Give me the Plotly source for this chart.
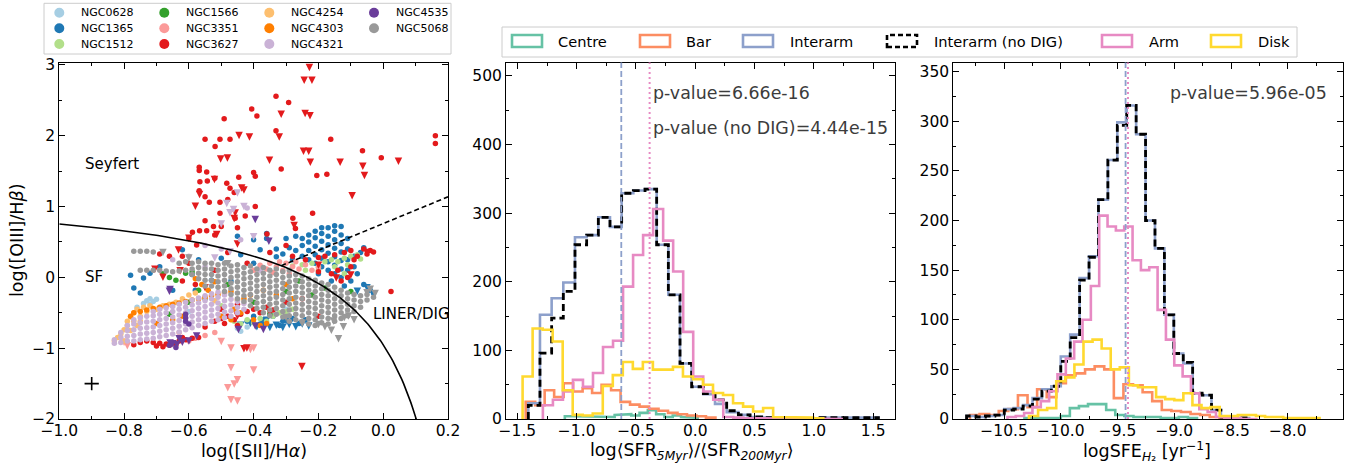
import numpy as np
import plotly.graph_objects as go

W, H = 1355, 466

# ---------------- BPT panel data ----------------
GALAXIES = ["NGC0628", "NGC1365", "NGC1512", "NGC1566", "NGC3351", "NGC3627",
            "NGC4254", "NGC4303", "NGC4321", "NGC4535", "NGC5068"]
GAL_COLORS = ["#a6cee3", "#1f78b4", "#b2df8a", "#33a02c", "#fb9a99", "#e31a1c",
              "#fdbf6f", "#ff7f00", "#cab2d6", "#6a3d9a", "#999999"]

N0628_DET = [(-0.74, -0.37), (-0.73, -0.33), (-0.72, -0.30), (-0.71, -0.34), (-0.70, -0.31),
             (-0.72, -0.38), (-0.76, -0.42), (-0.45, -0.72), (-0.44, -0.76), (-0.42, -0.70),
             (-0.50, -0.55), (-0.35, -0.50), (-0.30, -0.45), (-0.60, -0.48)]
N0628_LIM = []

N1365_DET = [(-0.25, 0.30), (-0.25, 0.45), (-0.25, 0.55), (-0.23, 0.25), (-0.23, 0.38), (-0.23, 0.50),
             (-0.23, 0.60), (-0.21, 0.20), (-0.21, 0.32), (-0.21, 0.44), (-0.21, 0.56), (-0.21, 0.65),
             (-0.19, 0.15), (-0.19, 0.27), (-0.19, 0.39), (-0.19, 0.51), (-0.19, 0.62), (-0.19, 0.70),
             (-0.17, 0.10), (-0.17, 0.22), (-0.17, 0.34), (-0.17, 0.46), (-0.17, 0.58), (-0.17, 0.70),
             (-0.15, 0.05), (-0.15, 0.17), (-0.15, 0.29), (-0.15, 0.41), (-0.15, 0.53), (-0.15, 0.65),
             (-0.15, 0.73), (-0.13, 0.00), (-0.13, 0.12), (-0.13, 0.24), (-0.13, 0.36), (-0.13, 0.48),
             (-0.13, 0.60), (-0.13, 0.72), (-0.11, 0.10), (-0.11, 0.25), (-0.11, 0.40), (-0.11, 0.55),
             (-0.09, 0.15), (-0.09, 0.30), (-0.07, 0.35), (-0.06, 0.42), (-0.27, 0.38), (-0.29, 0.42),
             (-0.31, 0.33), (-0.28, 0.25), (-0.33, 0.40), (-0.36, 0.55), (-0.30, 0.55), (-0.27, 0.58),
             (-0.78, 0.03), (-0.77, -0.15), (-0.74, -0.01), (-0.72, 0.06), (-0.69, 0.15), (-0.75, -0.22),
             (-0.65, -0.18), (-0.58, -0.18), (-0.57, 0.25), (-0.50, 0.27), (-0.44, 0.32), (-0.40, 0.53),
             (-0.36, 0.62), (-0.33, 0.29), (-0.53, -0.04), (-0.59, 0.04), (-0.62, 0.39), (-0.38, 0.39),
             (-0.45, 0.58), (-0.40, 0.20), (-0.47, -0.05), (-0.40, -0.55), (-0.37, -0.60), (-0.34, -0.55),
             (-0.31, -0.62), (-0.28, -0.58), (-0.26, -0.65), (-0.38, -0.66), (-0.32, -0.68), (-0.24, -0.60),
             (-0.42, -0.62), (-0.10, -0.05), (-0.08, 0.05), (-0.12, -0.12), (-0.06, -0.10), (-0.04, -0.18),
             (-0.20, 0.05), (-0.16, -0.05), (-0.03, -0.22)]
N1365_LIM = [(-0.44, -0.73), (-0.41, -0.70), (-0.39, -0.75), (-0.37, -0.72), (-0.35, -0.76),
             (-0.33, -0.73), (-0.31, -0.76), (-0.29, -0.72), (-0.27, -0.75), (-0.25, -0.71),
             (-0.23, -0.74), (-0.36, -0.66), (-0.30, -0.67), (-0.05, -0.20), (-0.08, -0.25)]

N1512_DET = [(-0.28, 0.16), (-0.25, 0.18), (-0.22, 0.20), (-0.20, 0.15), (-0.18, 0.22), (-0.16, 0.25),
             (-0.14, 0.22), (-0.12, 0.27), (-0.10, 0.30), (-0.08, 0.32), (-0.07, 0.26), (-0.11, 0.18),
             (-0.15, 0.15), (-0.24, 0.10), (-0.20, 0.10), (-0.46, -0.62), (-0.44, -0.66), (-0.42, -0.60),
             (-0.40, -0.64), (-0.38, -0.58), (-0.36, -0.62), (-0.34, -0.55), (-0.32, -0.50), (-0.30, -0.48),
             (-0.28, -0.45), (-0.35, -0.47), (-0.50, -0.40), (-0.12, 0.05)]
N1512_LIM = []

N1566_DET = [(-0.68, 0.05), (-0.66, 0.00), (-0.64, -0.04), (-0.61, 0.06), (-0.59, 0.08), (-0.57, -0.18),
             (-0.66, -0.52), (-0.55, -0.30), (-0.40, -0.35), (-0.30, -0.20), (-0.22, -0.25), (-0.18, -0.15),
             (-0.10, -0.20), (-0.35, -0.52), (-0.48, -0.10), (-0.26, -0.05), (-0.60, -0.35)]
N1566_LIM = []

N3351_DET = [(-0.38, 0.17), (-0.36, 0.12), (-0.35, 0.20), (-0.33, 0.15), (-0.31, 0.10), (-0.30, 0.20),
             (-0.28, 0.15), (-0.26, 0.12), (-0.24, 0.18), (-0.22, 0.10), (-0.32, 0.22), (-0.27, 0.22),
             (-0.34, 0.07), (-0.29, 0.05), (-0.40, 0.10), (-0.20, 0.14), (-0.58, -0.86), (-0.55, -0.82),
             (-0.63, -0.78), (-0.52, -0.78), (-0.60, -0.90)]
N3351_LIM = [(-0.79, -1.02), (-0.80, -0.97), (-0.50, -0.96), (-0.47, -1.05), (-0.47, -1.33),
             (-0.40, -1.36), (-0.48, -1.61), (-0.46, -1.56), (-0.45, -1.50), (-0.47, -1.78),
             (-0.45, -1.80), (-0.41, -1.07), (-0.40, -1.05)]

N3627_DET = [(-0.491, 2.24), (-0.406, 2.38), (-0.390, 2.28), (-0.331, 2.56), (-0.292, 2.47), (-0.550, 1.95),
             (-0.504, 1.95), (-0.473, 1.95), (-0.519, 1.85), (-0.331, 2.07), (-0.162, 1.95), (-0.064, 1.79),
             (-0.006, 1.69), (0.161, 2.00), (0.161, 1.89), (-0.315, 1.53), (-0.205, 1.44), (-0.174, 1.455),
             (-0.400, 1.48), (-0.395, 1.43), (-0.568, 1.555), (-0.568, 1.51), (-0.545, 1.49), (-0.566, 1.35),
             (-0.543, 1.36), (-0.568, 1.225), (-0.550, 1.14), (-0.537, 1.06), (-0.504, 1.06), (-0.504, 0.905),
             (-0.483, 1.33), (-0.473, 1.26), (-0.446, 1.414), (-0.339, 1.253), (-0.589, 0.637), (-0.567, 0.66),
             (-0.545, 0.66), (-0.524, 0.717), (-0.576, 0.458), (-0.457, 0.834), (-0.426, 0.867), (-0.395, 1.00),
             (-0.359, 0.613), (-0.279, 0.834), (-0.218, 0.905), (-0.271, 0.69), (0.024, -0.20), (-0.60, 0.55),
             (-0.52, 0.60), (-0.55, 0.80), (-0.50, 0.72), (-0.45, 0.70), (-0.48, 1.10), (-0.46, 1.20),
             (-0.52, 1.40), (-0.30, 0.45), (-0.35, 0.35), (-0.62, 0.30),
             (-0.15, 0.32), (-0.12, 0.35), (-0.10, 0.38), (-0.08, 0.30), (-0.06, 0.40), (-0.04, 0.38),
             (-0.03, 0.36), (-0.05, 0.33), (-0.09, 0.25), (-0.18, 0.30), (-0.20, 0.28), (-0.14, 0.10),
             (-0.16, 0.05), (-0.11, 0.00), (-0.13, -0.05), (-0.20, 0.08), (-0.24, 0.25), (-0.28, 0.30),
             (-0.10, 0.15),
             (-0.73, -0.90), (-0.71, -0.92), (-0.69, -0.93), (-0.67, -0.94), (-0.65, -0.92), (-0.63, -0.90),
             (-0.61, -0.88), (-0.59, -0.86), (-0.57, -0.85), (-0.70, -0.97), (-0.68, -0.98), (-0.66, -0.96),
             (-0.64, -0.95), (-0.75, -0.92), (-0.77, -0.95), (-0.62, -0.85),
             (-0.52, -0.62), (-0.50, -0.58), (-0.48, -0.55), (-0.46, -0.60), (-0.44, -0.52), (-0.42, -0.48),
             (-0.40, -0.45), (-0.38, -0.50), (-0.36, -0.42), (-0.34, -0.46), (-0.49, -0.65), (-0.45, -0.68),
             (-0.55, -0.70), (-0.30, -0.35), (-0.25, -0.30), (-0.20, -0.55), (-0.45, -0.38), (-0.50, -0.45),
             (-0.69, 0.33), (-0.66, 0.30), (-0.58, -0.10), (-0.62, -0.05), (-0.52, 0.10), (-0.48, 0.35),
             (-0.42, 0.20), (-0.60, 0.20)]
N3627_LIM = [(-0.228, 2.91), (-0.244, 2.73), (-0.220, 2.73), (-0.241, 2.26), (-0.226, 2.23), (-0.315, 2.25),
             (-0.445, 1.95), (-0.413, 1.93), (-0.321, 1.93), (-0.502, 1.62), (-0.481, 1.635), (-0.351, 1.60),
             (-0.246, 1.73), (-0.230, 1.73), (-0.225, 1.573), (-0.133, 1.573), (-0.063, 1.517), (-0.058, 1.385),
             (0.047, 1.588), (-0.096, 1.10), (-0.521, 1.33), (-0.437, 1.21), (-0.430, 1.18), (-0.580, 0.952),
             (-0.567, 1.117), (-0.457, 0.858), (-0.460, 0.78), (-0.514, 0.552), (-0.275, 0.68), (-0.632, 0.335),
             (-0.705, 0.063), (-0.627, 0.04), (-0.251, -1.31), (-0.421, -1.05), (-0.430, -1.06), (-0.145, -0.06),
             (-0.60, 0.50), (-0.45, 0.42), (-0.68, -0.05), (-0.55, -0.20), (-0.20, 0.12), (-0.10, -0.02),
             (-0.05, 0.30), (-0.35, -0.55), (-0.45, -0.60)]

N4254_DET = [(-0.82, -0.85), (-0.81, -0.80), (-0.80, -0.74), (-0.79, -0.68), (-0.79, -0.62), (-0.78, -0.56),
             (-0.77, -0.50), (-0.76, -0.45), (-0.75, -0.55), (-0.74, -0.42), (-0.73, -0.48), (-0.72, -0.40),
             (-0.70, -0.45), (-0.68, -0.40), (-0.78, -0.75), (-0.76, -0.68), (-0.77, -0.62), (-0.75, -0.62),
             (-0.60, -0.25), (-0.58, -0.22), (-0.55, -0.28), (-0.52, -0.33), (-0.66, -0.38), (-0.64, -0.35),
             (-0.62, -0.30), (-0.80, -0.90), (-0.83, -0.90)]
N4254_LIM = []

N4303_DET = [(-0.78, -0.55), (-0.77, -0.50), (-0.75, -0.48), (-0.73, -0.46), (-0.71, -0.44), (-0.69, -0.42),
             (-0.67, -0.40), (-0.65, -0.38), (-0.63, -0.36), (-0.61, -0.34), (-0.59, -0.32), (-0.57, -0.30),
             (-0.55, -0.28), (-0.53, -0.26), (-0.51, -0.24), (-0.49, -0.22), (-0.47, -0.20), (-0.45, -0.32),
             (-0.43, -0.30), (-0.41, -0.25), (-0.58, -0.02), (-0.56, -0.10), (-0.54, -0.18), (-0.52, -0.06),
             (-0.46, -0.45), (-0.44, -0.50), (-0.40, -0.60), (-0.38, -0.68), (-0.36, -0.65), (-0.47, -0.60),
             (-0.50, -0.55), (-0.62, -0.55), (-0.65, -0.60), (-0.70, -0.65), (-0.37, -0.18), (-0.33, -0.25),
             (-0.30, -0.10), (-0.28, -0.30)]
N4303_LIM = []

N4321_DET = [(-0.83, -0.93), (-0.83, -0.88), (-0.81, -0.92), (-0.81, -0.85), (-0.81, -0.78),
             (-0.79, -0.90), (-0.79, -0.83), (-0.79, -0.75), (-0.79, -0.68),
             (-0.77, -0.90), (-0.77, -0.82), (-0.77, -0.74), (-0.77, -0.66), (-0.77, -0.60),
             (-0.75, -0.88), (-0.75, -0.80), (-0.75, -0.72), (-0.75, -0.64), (-0.75, -0.57),
             (-0.73, -0.87), (-0.73, -0.79), (-0.73, -0.71), (-0.73, -0.63), (-0.73, -0.55),
             (-0.71, -0.86), (-0.71, -0.78), (-0.71, -0.70), (-0.71, -0.62), (-0.71, -0.54), (-0.71, -0.48),
             (-0.69, -0.84), (-0.69, -0.76), (-0.69, -0.68), (-0.69, -0.60), (-0.69, -0.52), (-0.69, -0.45),
             (-0.67, -0.82), (-0.67, -0.74), (-0.67, -0.66), (-0.67, -0.58), (-0.67, -0.50), (-0.67, -0.43),
             (-0.65, -0.80), (-0.65, -0.72), (-0.65, -0.64), (-0.65, -0.56), (-0.65, -0.48), (-0.65, -0.41),
             (-0.63, -0.77), (-0.63, -0.69), (-0.63, -0.61), (-0.63, -0.53), (-0.63, -0.45), (-0.63, -0.38),
             (-0.61, -0.74), (-0.61, -0.66), (-0.61, -0.58), (-0.61, -0.50), (-0.61, -0.42), (-0.61, -0.35),
             (-0.59, -0.71), (-0.59, -0.63), (-0.59, -0.55), (-0.59, -0.47), (-0.59, -0.39), (-0.59, -0.32),
             (-0.57, -0.68), (-0.57, -0.60), (-0.57, -0.52), (-0.57, -0.44), (-0.57, -0.36), (-0.57, -0.29),
             (-0.55, -0.65), (-0.55, -0.57), (-0.55, -0.49), (-0.55, -0.41), (-0.55, -0.33), (-0.55, -0.26),
             (-0.53, -0.62), (-0.53, -0.54), (-0.53, -0.46), (-0.53, -0.38), (-0.53, -0.30), (-0.53, -0.23),
             (-0.51, -0.60), (-0.51, -0.52), (-0.51, -0.44), (-0.51, -0.36), (-0.51, -0.28), (-0.51, -0.21),
             (-0.49, -0.57), (-0.49, -0.49), (-0.49, -0.41), (-0.49, -0.33), (-0.49, -0.25),
             (-0.47, -0.55), (-0.47, -0.47), (-0.47, -0.39), (-0.47, -0.31),
             (-0.45, -0.50), (-0.45, -0.42), (-0.45, -0.34), (-0.43, -0.45), (-0.43, -0.37),
             (-0.42, 0.98), (-0.44, 0.53), (-0.50, 0.40), (-0.55, 0.45), (-0.60, 0.30), (-0.65, 0.25),
             (-0.38, 0.10), (-0.55, 0.15)]
N4321_LIM = [(-0.462, 0.905), (-0.483, 0.99), (-0.473, 0.86), (-0.450, 1.14), (-0.473, 0.31),
             (-0.500, 0.70), (-0.430, 0.95), (-0.400, 0.52), (-0.520, 0.22)]

N4535_DET = [(-0.61, -0.52), (-0.61, -0.57), (-0.61, -0.62), (-0.60, -0.66), (-0.66, -0.96), (-0.64, -0.99)]
N4535_LIM = [(-0.658, -0.225), (-0.660, -0.25), (-0.395, 0.764), (-0.353, 0.458), (-0.447, -0.79),
             (-0.395, -0.74), (-0.370, -0.79), (-0.658, -0.98), (-0.650, -0.99), (-0.637, -1.00),
             (-0.620, -0.97), (-0.576, -0.88), (-0.600, -0.95), (-0.630, -0.92)]

N5068_DET = [(-0.77, 0.37), (-0.75, 0.37), (-0.73, 0.37), (-0.71, 0.36),
             (-0.75, 0.10), (-0.73, 0.10), (-0.71, 0.10), (-0.69, 0.10), (-0.67, 0.09), (-0.65, 0.08),
             (-0.63, 0.09), (-0.61, 0.10), (-0.63, 0.20), (-0.61, 0.22),
             (-0.59, 0.20), (-0.59, 0.12), (-0.59, 0.04),
             (-0.57, 0.22), (-0.57, 0.14), (-0.57, 0.06), (-0.57, -0.02),
             (-0.55, 0.20), (-0.55, 0.12), (-0.55, 0.04), (-0.55, -0.04), (-0.55, -0.12),
             (-0.53, 0.20), (-0.53, 0.12), (-0.53, 0.04), (-0.53, -0.04), (-0.53, -0.12),
             (-0.51, 0.18), (-0.51, 0.10), (-0.51, 0.02), (-0.51, -0.06), (-0.51, -0.14),
             (-0.49, 0.20), (-0.49, 0.12), (-0.49, 0.04), (-0.49, -0.04), (-0.49, -0.12), (-0.49, -0.20),
             (-0.47, 0.16), (-0.47, 0.08), (-0.47, 0.00), (-0.47, -0.08), (-0.47, -0.16), (-0.47, -0.24),
             (-0.45, 0.18), (-0.45, 0.10), (-0.45, 0.02), (-0.45, -0.06), (-0.45, -0.14), (-0.45, -0.22),
             (-0.45, -0.30),
             (-0.43, 0.14), (-0.43, 0.06), (-0.43, -0.02), (-0.43, -0.10), (-0.43, -0.18), (-0.43, -0.26),
             (-0.43, -0.34),
             (-0.41, 0.16), (-0.41, 0.08), (-0.41, 0.00), (-0.41, -0.08), (-0.41, -0.16), (-0.41, -0.24),
             (-0.41, -0.32), (-0.41, -0.40),
             (-0.39, 0.12), (-0.39, 0.04), (-0.39, -0.04), (-0.39, -0.12), (-0.39, -0.20), (-0.39, -0.28),
             (-0.39, -0.36), (-0.39, -0.44),
             (-0.37, 0.14), (-0.37, 0.06), (-0.37, -0.02), (-0.37, -0.10), (-0.37, -0.18), (-0.37, -0.26),
             (-0.37, -0.34), (-0.37, -0.42), (-0.37, -0.50),
             (-0.35, 0.10), (-0.35, 0.02), (-0.35, -0.06), (-0.35, -0.14), (-0.35, -0.22), (-0.35, -0.30),
             (-0.35, -0.38), (-0.35, -0.46), (-0.35, -0.54),
             (-0.33, 0.12), (-0.33, 0.04), (-0.33, -0.04), (-0.33, -0.12), (-0.33, -0.20), (-0.33, -0.28),
             (-0.33, -0.36), (-0.33, -0.44), (-0.33, -0.52),
             (-0.31, 0.08), (-0.31, 0.00), (-0.31, -0.08), (-0.31, -0.16), (-0.31, -0.24), (-0.31, -0.32),
             (-0.31, -0.40), (-0.31, -0.48), (-0.31, -0.56),
             (-0.29, 0.10), (-0.29, 0.02), (-0.29, -0.06), (-0.29, -0.14), (-0.29, -0.22), (-0.29, -0.30),
             (-0.29, -0.38), (-0.29, -0.46), (-0.29, -0.54), (-0.29, -0.62),
             (-0.27, 0.04), (-0.27, -0.04), (-0.27, -0.12), (-0.27, -0.20), (-0.27, -0.28), (-0.27, -0.36),
             (-0.27, -0.44), (-0.27, -0.52), (-0.27, -0.60),
             (-0.25, 0.02), (-0.25, -0.06), (-0.25, -0.14), (-0.25, -0.22), (-0.25, -0.30), (-0.25, -0.38),
             (-0.25, -0.46), (-0.25, -0.54), (-0.25, -0.62),
             (-0.23, -0.02), (-0.23, -0.10), (-0.23, -0.18), (-0.23, -0.26), (-0.23, -0.34), (-0.23, -0.42),
             (-0.23, -0.50), (-0.23, -0.58), (-0.23, -0.66),
             (-0.21, -0.04), (-0.21, -0.12), (-0.21, -0.20), (-0.21, -0.28), (-0.21, -0.36), (-0.21, -0.44),
             (-0.21, -0.52), (-0.21, -0.60), (-0.21, -0.68),
             (-0.19, -0.08), (-0.19, -0.16), (-0.19, -0.24), (-0.19, -0.32), (-0.19, -0.40), (-0.19, -0.48),
             (-0.19, -0.56), (-0.19, -0.64),
             (-0.17, -0.10), (-0.17, -0.18), (-0.17, -0.26), (-0.17, -0.34), (-0.17, -0.42), (-0.17, -0.50),
             (-0.17, -0.58), (-0.17, -0.66),
             (-0.15, -0.14), (-0.15, -0.22), (-0.15, -0.30), (-0.15, -0.38), (-0.15, -0.46), (-0.15, -0.54),
             (-0.15, -0.62),
             (-0.13, -0.18), (-0.13, -0.26), (-0.13, -0.34), (-0.13, -0.42), (-0.13, -0.50), (-0.13, -0.58),
             (-0.11, -0.22), (-0.11, -0.30), (-0.11, -0.38), (-0.11, -0.46), (-0.11, -0.54),
             (-0.09, -0.24), (-0.09, -0.32), (-0.09, -0.40), (-0.09, -0.48),
             (-0.07, -0.26), (-0.07, -0.34), (-0.07, -0.42), (-0.05, -0.24), (-0.05, -0.32), (-0.03, -0.28)]
N5068_LIM = [(-0.68, 0.30), (-0.60, 0.22), (-0.48, 0.14), (-0.30, -0.62), (-0.25, -0.70), (-0.20, -0.72),
             (-0.153, -0.67), (-0.138, -0.92), (-0.123, -0.75), (-0.107, -0.60), (-0.05, -0.27),
             (-0.025, -0.28), (-0.09, -0.65), (-0.18, -0.75), (-0.04, -0.22), (-0.12, -0.62), (-0.16, -0.80)]

BPT_DET = [N0628_DET, N1365_DET, N1512_DET, N1566_DET, N3351_DET, N3627_DET,
           N4254_DET, N4303_DET, N4321_DET, N4535_DET, N5068_DET]
BPT_LIM = [N0628_LIM, N1365_LIM, N1512_LIM, N1566_LIM, N3351_LIM, N3627_LIM,
           N4254_LIM, N4303_LIM, N4321_LIM, N4535_LIM, N5068_LIM]

# typical error bar
ERR_X, ERR_Y = -0.9, -1.5
ERR_DX, ERR_DY = 0.022, 0.094

# Kewley et al. (2006) demarcations
KEW_A, KEW_B, KEW_C = 0.72, 0.32, 1.30
SEY_M, SEY_C = 1.89, 0.76
KEW_X_END = 0.102
SEY_X_START = -0.315

# ---------------- histogram data ----------------
REGIONS = ["Centre", "Bar", "Interarm", "Interarm (no DIG)", "Arm", "Disk"]
REG_COLORS = ["#66c2a5", "#fc8d62", "#8da0cb", "#000000", "#e78ac3", "#ffd92f"]

# panel 2: log<SFR5Myr>/<SFR200Myr>  (bin start, bin width, counts)
P2_CENTRE = (-1.10, 0.07, [4, 4, 4, 4, 3, 3, 6, 7, 5, 9, 13, 7, 3, 5, 3, 2])
P2_BAR = (-1.43, 0.08, [25, 20, 42, 32, 52, 40, 45, 38, 50, 42, 25, 21, 18, 15, 12, 9, 7, 5, 4, 2])
P2_INTERARM = (-1.408, 0.0984, [23, 152, 176, 199, 265, 268, 294, 280, 329, 333, 335, 254, 181, 81, 47,
                                36, 22, 10, 6, 3, 2, 1, 1, 0, 1, 2, 3, 3, 2, 2])
P2_NODIG = (-1.408, 0.0984, [20, 96, 147, 186, 254, 268, 294, 280, 329, 333, 335, 254, 181, 81, 47,
                             37, 28, 12, 6, 3, 2, 1, 1, 0, 1, 2, 3, 3, 2, 2])
P2_ARM = (-1.285, 0.0845, [20, 28, 40, 57, 47, 67, 105, 114, 193, 239, 268, 306, 260, 215, 127,
                           62, 40, 28, 3, 2, 1, 1, 0, 0, 0, 0, 1, 1, 1, 0])
P2_DISK = (-1.456, 0.0845, [62, 132, 130, 113, 42, 6, 5, 8, 48, 64, 83, 73, 83, 72, 72,
                            76, 62, 58, 50, 38, 35, 23, 18, 11, 16, 3, 3, 3, 2, 1])
P2_MED_INTERARM = -0.624
P2_MED_ARM = -0.385

# panel 3: log SFE_H2
P3_CENTRE = (-10.32, 0.08, [1, 1, 1, 1, 3, 11, 13, 15, 15, 9, 4, 3, 2, 2, 2, 1, 1, 2, 1])
P3_BAR = (-10.80, 0.0845, [4, 5, 4, 8, 10, 24, 12, 30, 22, 36, 44, 46, 50, 53, 50, 21, 35, 34, 27, 18,
                           9, 8, 7, 5, 4, 2, 1, 1])
P3_INTERARM = (-10.83, 0.083, [3, 2, 3, 4, 10, 11, 14, 21, 30, 33, 63, 85, 142, 164, 221, 261, 299, 316,
                               287, 200, 172, 105, 66, 56, 26, 24, 9, 2, 1, 1])
P3_NODIG = (-10.83, 0.083, [3, 2, 3, 4, 9, 10, 13, 20, 28, 33, 58, 82, 140, 163, 221, 261, 296, 316,
                            287, 200, 172, 105, 66, 57, 26, 24, 9, 2, 1, 1])
P3_ARM = (-10.47, 0.0735, [2, 3, 6, 12, 18, 28, 45, 61, 78, 100, 134, 205, 194, 190, 194, 160, 150, 153,
                           110, 80, 54, 43, 26, 10, 7, 2, 1, 1, 0, 0])
P3_DISK = (-10.28, 0.08, [3, 9, 11, 38, 42, 55, 78, 80, 71, 50, 52, 34, 32, 32, 22, 20, 19, 26, 14, 11,
                          12, 3, 3, 4, 4, 3, 2, 2, 1, 1, 1, 1])
P3_MED_INTERARM = -9.429
P3_MED_ARM = -9.408

P2_SERIES = [P2_CENTRE, P2_BAR, P2_INTERARM, P2_NODIG, P2_ARM, P2_DISK]
P3_SERIES = [P3_CENTRE, P3_BAR, P3_INTERARM, P3_NODIG, P3_ARM, P3_DISK]

P2_PVAL = "p-value=6.66e-16"
P2_PVAL_NODIG = "p-value (no DIG)=4.44e-15"
P3_PVAL = "p-value=5.96e-05"

# ---------------- helpers ----------------
FONT = "DejaVu Sans"


def pxx(x):
    return x / W


def pxy(y):
    return 1 - y / H


def step_xy(spec):
    start, width, counts = spec
    xs, ys = [start], [0]
    for k, c in enumerate(counts):
        x0 = start + k * width
        xs += [x0, x0 + width]
        ys += [c, c]
    xs.append(start + len(counts) * width)
    ys.append(0)
    return xs, ys


def minus(v, fmt):
    s = fmt.format(v)
    return s.replace("-", "\u2212")


fig = go.Figure()

# ---- BPT scatter ----
for det, lim, col in zip(BPT_DET, BPT_LIM, GAL_COLORS):
    if det:
        fig.add_trace(go.Scatter(x=[p[0] for p in det], y=[p[1] for p in det], mode="markers",
                                 marker=dict(size=5.5, color=col, line=dict(width=0)),
                                 xaxis="x", yaxis="y", showlegend=False, hoverinfo="skip"))
    if lim:
        fig.add_trace(go.Scatter(x=[p[0] for p in lim], y=[p[1] for p in lim], mode="markers",
                                 marker=dict(size=7.5, color=col, symbol="arrow-down", line=dict(width=0)),
                                 xaxis="x", yaxis="y", showlegend=False, hoverinfo="skip"))

# Kewley curves
kx = np.linspace(-1.0, KEW_X_END, 200)
ky = KEW_A / (kx - KEW_B) + KEW_C
fig.add_trace(go.Scatter(x=kx, y=ky, mode="lines", line=dict(color="black", width=1.6),
                         xaxis="x", yaxis="y", showlegend=False, hoverinfo="skip"))
sx = np.array([SEY_X_START, 0.2])
fig.add_trace(go.Scatter(x=sx, y=SEY_M * sx + SEY_C, mode="lines",
                         line=dict(color="black", width=1.6, dash="5px,3px"),
                         xaxis="x", yaxis="y", showlegend=False, hoverinfo="skip"))
# error cross
fig.add_trace(go.Scatter(x=[ERR_X], y=[ERR_Y], mode="markers", marker=dict(size=1, color="black"),
                         error_x=dict(type="constant", value=ERR_DX, color="black", thickness=1.6, width=0),
                         error_y=dict(type="constant", value=ERR_DY, color="black", thickness=1.6, width=0),
                         xaxis="x", yaxis="y", showlegend=False, hoverinfo="skip"))

# ---- histograms ----
for axn, series in (("2", P2_SERIES), ("3", P3_SERIES)):
    for spec, name, col in zip(series, REGIONS, REG_COLORS):
        xs, ys = step_xy(spec)
        if name == "Interarm (no DIG)":
            line = dict(color=col, width=2.8, dash="7px,4px")
        else:
            line = dict(color=col, width=2.6)
        fig.add_trace(go.Scatter(x=xs, y=ys, mode="lines", line=line, name=name,
                                 xaxis="x" + axn, yaxis="y" + axn, showlegend=False, hoverinfo="skip"))

# median lines
for axn, vb, vp in (("2", P2_MED_INTERARM, P2_MED_ARM), ("3", P3_MED_INTERARM, P3_MED_ARM)):
    fig.add_shape(type="line", x0=vb, x1=vb, xref="x" + axn, yref="y" + axn + " domain", y0=0, y1=1,
                  line=dict(color=REG_COLORS[2], width=1.8, dash="6px,3px"))
    fig.add_shape(type="line", x0=vp, x1=vp, xref="x" + axn, yref="y" + axn + " domain", y0=0, y1=1,
                  line=dict(color=REG_COLORS[4], width=2, dash="2px,3px"))

# ---------------- axes ----------------
TOP, BOT = 62.5, 419
ydom = [pxy(BOT), pxy(TOP)]
axis_common = dict(showline=True, linecolor="black", linewidth=1, mirror="allticks", ticks="inside",
                   ticklen=6, tickwidth=1, tickcolor="black", showgrid=False, zeroline=False,
                   automargin=False,
                   tickfont=dict(family=FONT, size=15.5, color="black"), tickmode="array")


def minor(vals):
    return dict(ticks="inside", ticklen=3, tickwidth=1, tickcolor="black", showgrid=False, tickmode="array",
                tickvals=vals)


x1t = [-1.0, -0.8, -0.6, -0.4, -0.2, 0.0, 0.2]
y1t = [-2, -1, 0, 1, 2, 3]
x2t = [-1.5, -1.0, -0.5, 0.0, 0.5, 1.0, 1.5]
y2t = [0, 100, 200, 300, 400, 500]
x3t = [-10.5, -10.0, -9.5, -9.0, -8.5, -8.0]
y3t = [0, 50, 100, 150, 200, 250, 300, 350]
XSO = -3

fig.update_layout(
    width=W, height=H, margin=dict(l=0, r=0, t=0, b=0, pad=0, autoexpand=False),
    paper_bgcolor="white", plot_bgcolor="white",
    font=dict(family=FONT, color="black"), showlegend=False,
    xaxis=dict(axis_common, domain=[pxx(59.3), pxx(448)], range=[-1.0, 0.2], anchor="y",
               tickvals=x1t, ticktext=[minus(v, "{:.1f}") for v in x1t], ticklabelstandoff=XSO,
               minor=minor([-0.9, -0.7, -0.5, -0.3, -0.1, 0.1])),
    yaxis=dict(axis_common, domain=ydom, range=[-2, 3.035], anchor="x",
               tickvals=y1t, ticktext=[minus(v, "{:d}") for v in y1t],
               minor=minor([-1.5, -0.5, 0.5, 1.5, 2.5])),
    xaxis2=dict(axis_common, domain=[pxx(506), pxx(895)], range=[-1.596, 1.684], anchor="y2",
                tickvals=x2t, ticktext=[minus(v, "{:.1f}") for v in x2t], ticklabelstandoff=XSO,
                minor=minor([-1.25, -0.75, -0.25, 0.25, 0.75, 1.25])),
    yaxis2=dict(axis_common, domain=ydom, range=[0, 519.6], anchor="x2",
                tickvals=y2t, ticktext=[str(v) for v in y2t],
                minor=minor([50, 150, 250, 350, 450])),
    xaxis3=dict(axis_common, domain=[pxx(953.3), pxx(1342.7)], range=[-10.947, -7.516], anchor="y3",
                tickvals=x3t, ticktext=[minus(v, "{:.1f}") for v in x3t], ticklabelstandoff=XSO,
                minor=minor([-10.75, -10.25, -9.75, -9.25, -8.75, -8.25, -7.75])),
    yaxis3=dict(axis_common, domain=ydom, range=[0, 359.3], anchor="x3",
                tickvals=y3t, ticktext=[str(v) for v in y3t],
                minor=minor([25, 75, 125, 175, 225, 275, 325])),
)

ann = []
TFS = 17.5
XT_Y = 451
# axis titles
ann.append(dict(text="log([SII]/H<i>\u03b1</i>)", x=pxx(253.5), y=pxy(XT_Y), xref="paper", yref="paper",
                showarrow=False, font=dict(size=TFS), xanchor="center", yanchor="middle"))
ann.append(dict(text="log([OIII]/H<i>\u03b2</i>)", x=pxx(17), y=pxy(241), xref="paper", yref="paper",
                showarrow=False, font=dict(size=TFS), textangle=-90, xanchor="center", yanchor="middle"))
ann.append(dict(text="log\u27e8SFR<sub><i>5Myr</i></sub>\u27e9/\u27e8SFR<sub><i>200Myr</i></sub>\u27e9",
                x=pxx(691), y=pxy(XT_Y), xref="paper", yref="paper", showarrow=False, font=dict(size=TFS),
                xanchor="center", yanchor="middle"))
ann.append(dict(text="logSFE<sub><i>H</i>\u2082</sub> [yr<sup>\u22121</sup>]",
                x=pxx(1147), y=pxy(XT_Y), xref="paper", yref="paper", showarrow=False, font=dict(size=TFS),
                xanchor="center", yanchor="middle"))
# BPT region labels
for txt, x, y in (("Seyfert", -0.928, 1.60), ("SF", -0.928, 0.0), ("LINER/DIG", -0.037, -0.517)):
    ann.append(dict(text=txt, x=x, y=y, xref="x", yref="y", showarrow=False, font=dict(size=15),
                    xanchor="left", yanchor="middle"))
# p-values
PCOL = "#3c3c3c"
ann.append(dict(text=P2_PVAL, x=-0.373, y=475, xref="x2", yref="y2", showarrow=False,
                font=dict(size=17.4, color=PCOL), xanchor="left", yanchor="middle"))
ann.append(dict(text=P2_PVAL_NODIG, x=-0.373, y=424, xref="x2", yref="y2", showarrow=False,
                font=dict(size=17.4, color=PCOL), xanchor="left", yanchor="middle"))
ann.append(dict(text=P3_PVAL, x=-9.056, y=328.5, xref="x3", yref="y3", showarrow=False,
                font=dict(size=17.4, color=PCOL), xanchor="left", yanchor="middle"))

shapes = []
# ---- galaxy legend (manual) ----
shapes.append(dict(type="rect", xref="paper", yref="paper", x0=pxx(44), x1=pxx(451), y0=pxy(54), y1=pxy(3.3),
                   line=dict(color="#cccccc", width=1), fillcolor="white", layer="above"))
LEG1_MX = [59.3, 164.3, 269.3, 374.0]
LEG1_TX = [79, 184, 289, 394]
LEG1_Y = [12.7, 28.3, 44.0]
for i, (g, col) in enumerate(zip(GALAXIES, GAL_COLORS)):
    c, r = i // 3, i % 3
    cx, cy = LEG1_MX[c], LEG1_Y[r]
    shapes.append(dict(type="circle", xref="paper", yref="paper", x0=pxx(cx - 5), x1=pxx(cx + 5),
                       y0=pxy(cy + 5), y1=pxy(cy - 5), fillcolor=col, line=dict(width=0), layer="above"))
    ann.append(dict(text=g, x=pxx(LEG1_TX[c]), y=pxy(cy), xref="paper", yref="paper", showarrow=False,
                    font=dict(size=11), xanchor="left", yanchor="middle"))

# ---- region legend (manual) ----
shapes.append(dict(type="rect", xref="paper", yref="paper", x0=pxx(502), x1=pxx(1297), y0=pxy(57), y1=pxy(27),
                   line=dict(color="#cccccc", width=1), fillcolor="white", layer="above"))
LEG2_PX = [512, 640, 743, 887, 1102, 1211]
LEG2_TX = [556, 684, 788, 932, 1147, 1256]
for name, col, px0, tx in zip(REGIONS, REG_COLORS, LEG2_PX, LEG2_TX):
    dash = "5px,3px" if name == "Interarm (no DIG)" else "solid"
    shapes.append(dict(type="rect", xref="paper", yref="paper", x0=pxx(px0), x1=pxx(px0 + 30),
                       y0=pxy(47), y1=pxy(35), line=dict(color=col, width=2.6, dash=dash),
                       fillcolor="rgba(0,0,0,0)", layer="above"))
    ann.append(dict(text=name, x=pxx(tx), y=pxy(41), xref="paper", yref="paper", showarrow=False,
                    font=dict(size=14.6), xanchor="left", yanchor="middle"))

fig.update_layout(annotations=ann, shapes=list(fig.layout.shapes) + shapes)

fig.write_html("out.html")
